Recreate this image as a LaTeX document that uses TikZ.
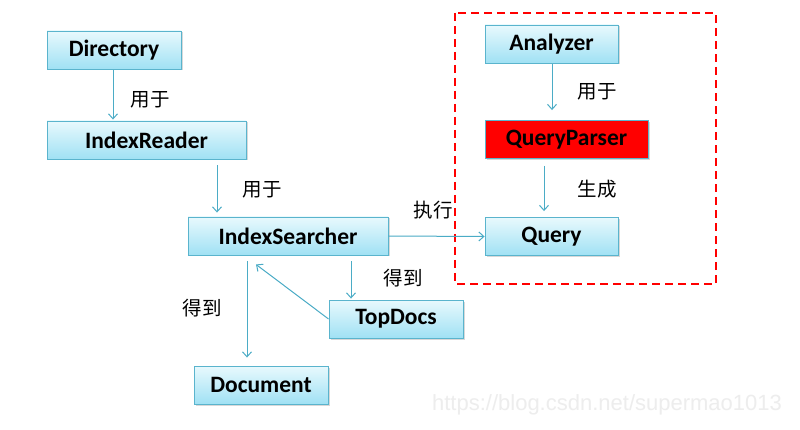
\documentclass[tikz,border=0pt]{standalone}
\usepackage{fontspec}
\setmainfont{Carlito}
\newfontfamily\cjk{Noto Sans CJK SC}
\newfontfamily\wm{Liberation Sans}
\usetikzlibrary{arrows.meta,shadows,calc}
\definecolor{lineblue}{RGB}{75,172,198}
\definecolor{boxtop}{RGB}{232,249,253}
\definecolor{boxbot}{RGB}{160,225,244}
\definecolor{boxedge}{RGB}{90,180,205}
\tikzset{
  box/.style={draw=boxedge, line width=0.9pt, top color=boxtop, bottom color=boxbot,
    minimum height=38pt, inner sep=0pt, font=\fontsize{23.5}{23.5}\selectfont\bfseries,
    drop shadow={shadow xshift=1.5pt, shadow yshift=-1.5pt, fill=black!25, opacity=0.6}},
  redbox/.style={box, top color=red, bottom color=red, fill=red, draw=boxedge},
  arr/.style={draw=lineblue, line width=1pt, -{Straight Barb[length=5pt,width=9pt]}},
  lbl/.style={font=\cjk\fontsize{19.5}{19.5}\selectfont, inner sep=0pt},
}
\begin{document}
\begin{tikzpicture}[x=1pt,y=-1pt]
\useasboundingbox[fill=white] (0,0) rectangle (800,430);
\node[box, minimum width=134pt] (dir) at (114,50) {Directory};
\node[box, minimum width=199pt] (ir) at (146.5,140) {IndexReader};
\node[box, minimum width=200pt] (is) at (288,236) {IndexSearcher};
\node[box, minimum width=134pt] (td) at (396,319) {TopDocs};
\node[box, minimum width=134pt] (doc) at (261,385) {Document};
\node[box, minimum width=133pt] (an) at (551.5,44) {Analyzer};
\node[redbox, minimum width=163pt] (qp) at (566.5,139.5) {QueryParser};
\node[box, minimum width=133pt] (q) at (551.5,236.5) {Query};
\draw[red, line width=2pt, dash pattern=on 8pt off 5pt] (455,13) rectangle (716,284);
% arrows
\draw[arr] ([xshift=-1pt,yshift=-1pt]dir.south) -- ([xshift=-33.5pt,yshift=1pt]ir.north);
\draw[arr] ([xshift=70.5pt,yshift=-6pt]ir.south) -- ([xshift=-71pt,yshift=4pt]is.north);
\draw[arr] (is.east) -- (q.west);
\draw[arr] ([xshift=63pt,yshift=-6pt]is.south) -- ([xshift=-45pt,yshift=1pt]td.north);
\draw[arr] (td.west) -- ([xshift=-32pt,yshift=-9pt]is.south);
\draw[arr] ([xshift=-41pt,yshift=-6pt]is.south) -- ([xshift=-14pt,yshift=8pt]doc.north);
\draw[arr] ([xshift=0.5pt,yshift=-1pt]an.south) -- ([xshift=-14.5pt,yshift=10pt]qp.north);
\draw[arr] ([xshift=-22.5pt,yshift=-7pt]qp.south) -- ([xshift=-7.5pt,yshift=6pt]q.north);
% labels
\node[lbl] (l1) at (150,100) {用于};
\node[lbl] (l2) at (262,190) {用于};
\node[lbl] (l3) at (433,210) {执行};
\node[lbl] (l4) at (403,278) {得到};
\node[lbl] (l5) at (202,308) {得到};
\node[lbl] (l6) at (597,92) {用于};
\node[lbl] (l7) at (597,189) {生成};
\node[font=\wm\fontsize{22}{22}\selectfont, text=black!7, inner sep=0pt] (wmk) at (607,405) {https://blog.csdn.net/supermao1013};
\end{tikzpicture}
\end{document}
